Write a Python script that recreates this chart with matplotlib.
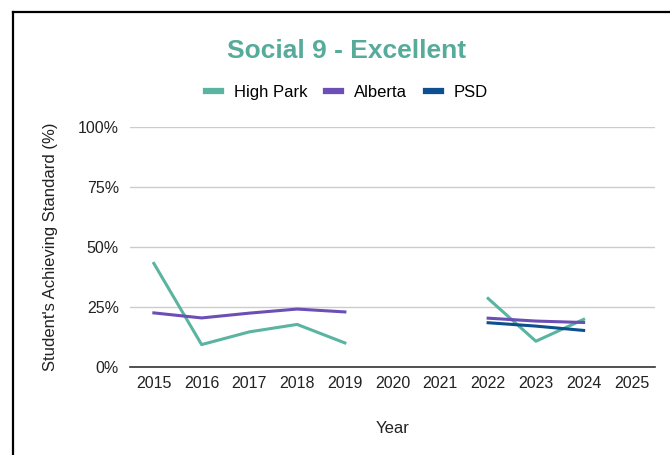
import numpy as np
import matplotlib
matplotlib.use("Agg")
import matplotlib.pyplot as plt
from matplotlib.lines import Line2D

plt.rcParams['font.family'] = ['Liberation Sans', 'DejaVu Sans']

# data (percent), NaN = no result that year
years = ['2015', '2016', '2017', '2018', '2019', '2020', '2021', '2022', '2023', '2024', '2025']
high_park = [43.2, 9.4, 14.7, 17.8, 10.1, np.nan, np.nan, 28.6, 10.8, 19.9, np.nan]
alberta = [22.6, 20.5, 22.5, 24.2, 23.0, np.nan, np.nan, 20.4, 19.2, 18.6, np.nan]
psd = [np.nan, np.nan, np.nan, np.nan, np.nan, np.nan, np.nan, 18.5, 17.1, 15.3, np.nan]

series_names = ['High Park', 'Alberta', 'PSD']
colors = ['#5ab4a0', '#6b4fb5', '#0d4f8f']

fig = plt.figure(figsize=(6.7, 4.55), dpi=100)
ax = fig.add_axes([0.194, 0.193, 0.784, 0.528])

x = np.arange(len(years))
for vals, name, c in zip([high_park, alberta, psd], series_names, colors):
    ax.plot(x, vals, color=c, lw=2.2, label=name)

ax.set_xlim(-0.5, len(years) - 0.5)
ax.set_ylim(0, 100)
ax.set_yticks([0, 25, 50, 75, 100])
ax.set_yticklabels(['0%', '25%', '50%', '75%', '100%'])
ax.set_xticks(x)
ax.set_xticklabels(years)
ax.tick_params(length=0, labelsize=11.5, colors='#222222', pad=6)
ax.tick_params(axis='y', pad=8)
ax.grid(axis='y', color='#cccccc', lw=1)
ax.set_axisbelow(True)
for s in ['top', 'right', 'left']:
    ax.spines[s].set_visible(False)
ax.spines['bottom'].set_color('#333333')
ax.spines['bottom'].set_linewidth(1.2)

ax.set_xlabel('Year', fontsize=12, color='#222222', labelpad=22)
ax.set_ylabel("Student's Achieving Standard (%)", fontsize=12, color='#222222', labelpad=14)

fig.text(0.518, 0.888, 'Social 9 - Excellent', ha='center', va='center',
         fontsize=19, fontweight='bold', color='#56ab9a')

handles = [Line2D([], [], color=c, lw=4.5) for c in colors]
fig.legend(handles, series_names, loc='center', bbox_to_anchor=(0.518, 0.796), ncol=3,
           frameon=False, fontsize=12, handlelength=0.9, columnspacing=1.1, handletextpad=0.8)

# frame around the chart (left and top edges visible)
fig.add_artist(Line2D([13 / 670, 1.0], [1 - 11.5 / 455, 1 - 11.5 / 455], color='black', lw=1.6,
                      transform=fig.transFigure))
fig.add_artist(Line2D([13 / 670, 13 / 670], [0, 1 - 11.5 / 455], color='black', lw=1.6,
                      transform=fig.transFigure))

fig.savefig('out.png', dpi=100)
